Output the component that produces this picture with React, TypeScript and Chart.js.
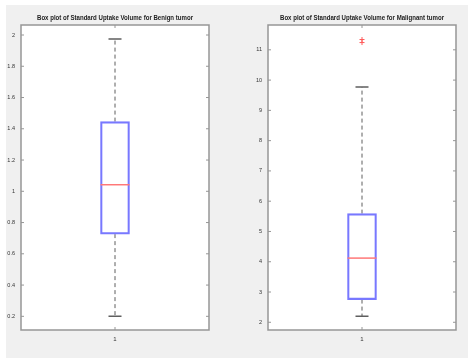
import { useEffect, useRef } from 'react';
import { Chart, registerables } from 'chart.js';
Chart.register(...registerables);

const categories = ['1'];
const benignTitle = 'Box plot of Standard Uptake Volume for Benign tumor';
const malignantTitle = 'Box plot of Standard Uptake Volume for Malignant tumor';
// [lower whisker, q1, median, q3, upper whisker]
const benignStats = [0.2, 0.726, 1.042, 1.446, 1.974];
const malignantStats = [2.2, 2.75, 4.12, 5.59, 9.77];
const benignOutliers: number[] = [];
const malignantOutliers = [11.34, 11.24];
const benignTicks = [0.2, 0.4, 0.6, 0.8, 1, 1.2, 1.4, 1.6, 1.8, 2];
const malignantTicks = [2, 3, 4, 5, 6, 7, 8, 9, 10, 11];
const benignRange = [0.1125, 2.064];
const malignantRange = [1.745, 11.82];

const AXIS_COLOR = 'rgb(150,150,150)';
const BOX_COLOR = 'rgb(120,120,255)';
const MED_COLOR = 'rgb(255,120,120)';
const WHISK_COLOR = 'rgb(95,95,95)';

const boxPlugin = {
  id: 'matlabBox',
  beforeDatasetsDraw(chart: any, _a: any, opts: any) {
    const { ctx, chartArea: a } = chart;
    ctx.save();
    ctx.fillStyle = '#ffffff';
    ctx.fillRect(a.left, a.top, a.right - a.left, a.bottom - a.top);
    ctx.restore();
    const st: number[] = opts.stats;
    const x = chart.scales.x;
    const y = chart.scales.y;
    const cx = x.getPixelForValue(0);
    ctx.save();
    ctx.strokeStyle = WHISK_COLOR;
    ctx.lineWidth = 1;
    ctx.setLineDash([4, 3]);
    ctx.beginPath();
    ctx.moveTo(cx, y.getPixelForValue(st[3]));
    ctx.lineTo(cx, y.getPixelForValue(st[4]));
    ctx.moveTo(cx, y.getPixelForValue(st[1]));
    ctx.lineTo(cx, y.getPixelForValue(st[0]));
    ctx.stroke();
    ctx.setLineDash([]);
    const ch = opts.capHalf;
    ctx.lineWidth = 1.5;
    ctx.beginPath();
    for (const v of [st[0], st[4]]) {
      const py = y.getPixelForValue(v);
      ctx.moveTo(cx - ch, py);
      ctx.lineTo(cx + ch, py);
    }
    ctx.stroke();
    ctx.restore();
  },
  afterDatasetsDraw(chart: any, _a: any, opts: any) {
    const { ctx, chartArea: a } = chart;
    const st: number[] = opts.stats;
    const x = chart.scales.x;
    const y = chart.scales.y;
    const cx = x.getPixelForValue(0);
    const bh = opts.boxHalf;
    ctx.save();
    ctx.strokeStyle = MED_COLOR;
    ctx.lineWidth = 1.5;
    ctx.beginPath();
    const my = y.getPixelForValue(st[2]);
    ctx.moveTo(cx - bh, my);
    ctx.lineTo(cx + bh, my);
    ctx.stroke();
    // axes box
    ctx.strokeStyle = AXIS_COLOR;
    ctx.lineWidth = 1.5;
    ctx.strokeRect(a.left, a.top, a.right - a.left, a.bottom - a.top);
    ctx.lineWidth = 1;
    ctx.beginPath();
    for (const t of y.ticks) {
      const py = y.getPixelForValue(t.value);
      ctx.moveTo(a.left, py);
      ctx.lineTo(a.left + 3, py);
      ctx.moveTo(a.right, py);
      ctx.lineTo(a.right - 3, py);
    }
    ctx.moveTo(cx, a.top);
    ctx.lineTo(cx, a.top + 3);
    ctx.moveTo(cx, a.bottom);
    ctx.lineTo(cx, a.bottom - 3);
    ctx.stroke();
    ctx.restore();
  },
  afterDraw(chart: any, _a: any, opts: any) {
    const { ctx, chartArea: a } = chart;
    ctx.save();
    ctx.fillStyle = '#222';
    ctx.font = 'bold 7px "Liberation Sans", Arial, sans-serif';
    ctx.textAlign = 'center';
    ctx.textBaseline = 'middle';
    ctx.fillText(opts.title, (a.left + a.right) / 2, a.top - 7, opts.titleWidth);
    ctx.restore();
  },
};

type PanelProps = {
  title: string;
  stats: number[];
  outliers: number[];
  ticks: number[];
  range: number[];
  left: number;
  width: number;
  yWidth: number;
  padRight: number;
  titleWidth: number;
};

function Panel(p: PanelProps) {
  const ref = useRef<HTMLCanvasElement>(null);
  useEffect(() => {
    if (!ref.current) return;
    const chart = new Chart(ref.current, {
      type: 'bar',
      data: {
        labels: categories,
        datasets: [
          {
            type: 'bar',
            data: [[p.stats[1], p.stats[3]]] as any,
            backgroundColor: 'rgba(0,0,0,0)',
            borderColor: BOX_COLOR,
            borderWidth: 1.5,
            borderSkipped: false,
            barThickness: 29,
          } as any,
          {
            type: 'line',
            data: p.outliers.map((v) => ({ x: categories[0], y: v })) as any,
            showLine: false,
            pointStyle: 'cross',
            pointRadius: 2.5,
            borderColor: 'rgb(255,90,90)',
            pointBorderWidth: 1,
          } as any,
        ],
      },
      options: {
        animation: false,
        responsive: false,
        devicePixelRatio: 1,
        layout: { padding: { left: 0, right: p.padRight, top: 20, bottom: 0 } },
        plugins: {
          legend: { display: false },
          tooltip: { enabled: false },
          matlabBox: {
            stats: p.stats,
            title: p.title,
            titleWidth: p.titleWidth,
            boxHalf: 14.5,
            capHalf: 6.5,
          },
        } as any,
        scales: {
          x: {
            grid: { display: false, drawTicks: false },
            border: { display: false },
            ticks: { color: '#333', font: { size: 6, family: '"Liberation Sans", Arial' }, padding: 6 },
            afterFit: (s: any) => {
              s.height = 28;
            },
          },
          y: {
            min: p.range[0],
            max: p.range[1],
            grid: { display: false, drawTicks: false },
            border: { display: false },
            afterBuildTicks: (s: any) => {
              s.ticks = p.ticks.map((v) => ({ value: v }));
            },
            ticks: {
              color: '#333',
              font: { size: 5.5, family: '"Liberation Sans", Arial' },
              padding: 6,
              callback: (v: any) => String(Math.round(Number(v) * 10) / 10),
            },
            afterFit: (s: any) => {
              s.width = p.yWidth;
            },
          },
        },
      } as any,
      plugins: [boxPlugin as any],
    });
    return () => chart.destroy();
  }, []);
  return (
    <canvas
      ref={ref}
      width={p.width}
      height={353}
      style={{ position: 'absolute', left: p.left, top: 0, width: p.width, height: 353 }}
    />
  );
}

export default function App() {
  useEffect(() => {
    document.body.style.margin = '0';
  }, []);
  return (
    <div style={{ position: 'relative', width: 468, height: 358, background: '#fff', overflow: 'hidden' }}>
      <div style={{ position: 'absolute', left: 6, top: 5, width: 462, height: 353, background: '#f0f0f0' }}>
        <Panel
          title={benignTitle}
          stats={benignStats}
          outliers={benignOutliers}
          ticks={benignTicks}
          range={benignRange}
          left={0}
          width={228}
          yWidth={15}
          padRight={25}
          titleWidth={156}
        />
        <Panel
          title={malignantTitle}
          stats={malignantStats}
          outliers={malignantOutliers}
          ticks={malignantTicks}
          range={malignantRange}
          left={228}
          width={234}
          yWidth={34}
          padRight={12}
          titleWidth={164}
        />
      </div>
    </div>
  );
}
